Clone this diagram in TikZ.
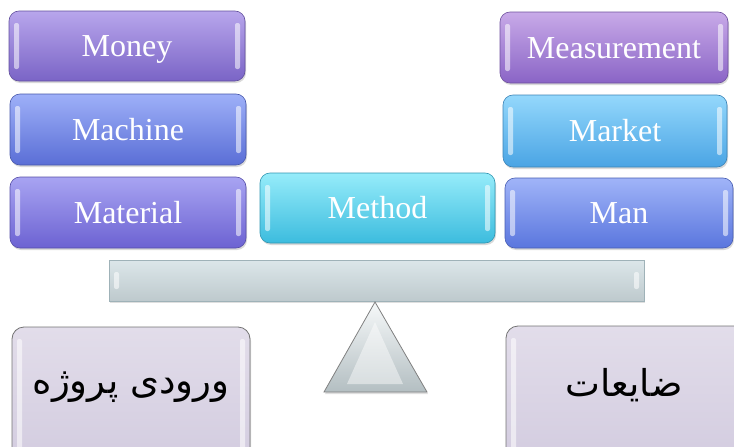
\documentclass[tikz,border=0pt]{standalone}
\usepackage{fontspec}
\setmainfont{Liberation Serif}
\newfontfamily\arabicfont[Script=Arabic]{DejaVu Sans}
\TeXXeTstate=1
\usetikzlibrary{shadows}
\definecolor{moneyT}{HTML}{B8A6EC}\definecolor{moneyB}{HTML}{7A64C6}
\definecolor{machT}{HTML}{9EB0F8}\definecolor{machB}{HTML}{5A6ED6}
\definecolor{matT}{HTML}{A8A4F2}\definecolor{matB}{HTML}{6C62D2}
\definecolor{measT}{HTML}{C8AAE8}\definecolor{measB}{HTML}{8A64C6}
\definecolor{markT}{HTML}{94D8FC}\definecolor{markB}{HTML}{4AA4E4}
\definecolor{manT}{HTML}{A0B4F8}\definecolor{manB}{HTML}{5A76DE}
\definecolor{methT}{HTML}{96ECFA}\definecolor{methB}{HTML}{3CBCDE}
\definecolor{beamC}{HTML}{D3E0E4}\definecolor{beamD}{HTML}{9FB2B8}
\definecolor{boxT}{HTML}{E2DDEA}\definecolor{boxB}{HTML}{D2CBDF}
\tikzset{
  gloss/.style={path picture={
    \fill[white,opacity=0.55,rounded corners=2pt]
      ([xshift=5pt,yshift=-12pt]path picture bounding box.north west) rectangle
      ([xshift=10pt,yshift=12pt]path picture bounding box.south west);
    \fill[white,opacity=0.55,rounded corners=2pt]
      ([xshift=-5pt,yshift=-12pt]path picture bounding box.north east) rectangle
      ([xshift=-10pt,yshift=12pt]path picture bounding box.south east);
  }},
  pill/.style n args={2}{rounded corners=10pt, draw=#2!80!black, line width=0.6pt,
    top color=#1, bottom color=#2, gloss,
    drop shadow={opacity=0.3,shadow xshift=1pt,shadow yshift=-2pt},
    text=white, font=\fontsize{32}{35}\selectfont, inner sep=0pt,
    text height=21pt, text depth=0pt},
  bigbox/.style={rounded corners=12pt, draw=black!55, line width=0.8pt,
    top color=boxT, bottom color=boxB, gloss,
    drop shadow={opacity=0.3,shadow xshift=1pt,shadow yshift=-2pt}},
  fa/.style={font=\arabicfont\fontsize{37}{42}\selectfont, text=black}
}
\begin{document}
\begin{tikzpicture}[x=1pt,y=-1pt]
\useasboundingbox (0,0) rectangle (734,447);
\clip (0,0) rectangle (734,447);
% left column
\node[pill={moneyT}{moneyB}, minimum width=236pt, minimum height=70pt] (money) at (127,46) {Money};
\node[pill={machT}{machB}, minimum width=236pt, minimum height=71pt] (machine) at (128,129.5) {Machine};
\node[pill={matT}{matB}, minimum width=236pt, minimum height=71pt] (material) at (128,212.5) {Material};
% right column
\node[pill={measT}{measB}, minimum width=228pt, minimum height=71pt] (measurement) at (614,47.5) {Measurement};
\node[pill={markT}{markB}, minimum width=224pt, minimum height=72pt] (market) at (615,131) {Market};
\node[pill={manT}{manB}, minimum width=228pt, minimum height=70pt] (man) at (619,213) {Man};
% middle
\node[pill={methT}{methB}, minimum width=235pt, minimum height=70pt] (method) at (377.5,208) {Method};
% beam
\node[draw=beamD, line width=0.8pt, top color=beamC!80!white, bottom color=beamC!90!black,
      minimum width=535pt, minimum height=41pt, gloss,
      drop shadow={opacity=0.25,shadow xshift=1pt,shadow yshift=-2pt}] (beam) at (376.5,280.5) {};
% fulcrum
\coordinate (apex) at (375,302);
\coordinate (bl) at (324,392);
\coordinate (br) at (427,392);
\draw[draw=black!50, line width=0.8pt, top color=white!80!beamC, bottom color=beamC!85!black,
      drop shadow={opacity=0.25,shadow xshift=1pt,shadow yshift=-2pt}] (apex) -- (br) -- (bl) -- cycle;
\fill[white,opacity=0.45] (375,322) -- (403,384) -- (347,384) -- cycle;
% bottom boxes
\draw[bigbox] (12,327) rectangle (250,470);
\node[fa] (input) at (131,387) {\beginR ورودی پروژه\endR};
\draw[bigbox] (506,326) rectangle (760,470);
\node[fa] (waste) at (624,385) {\beginR ضایعات\endR};
\end{tikzpicture}
\end{document}
